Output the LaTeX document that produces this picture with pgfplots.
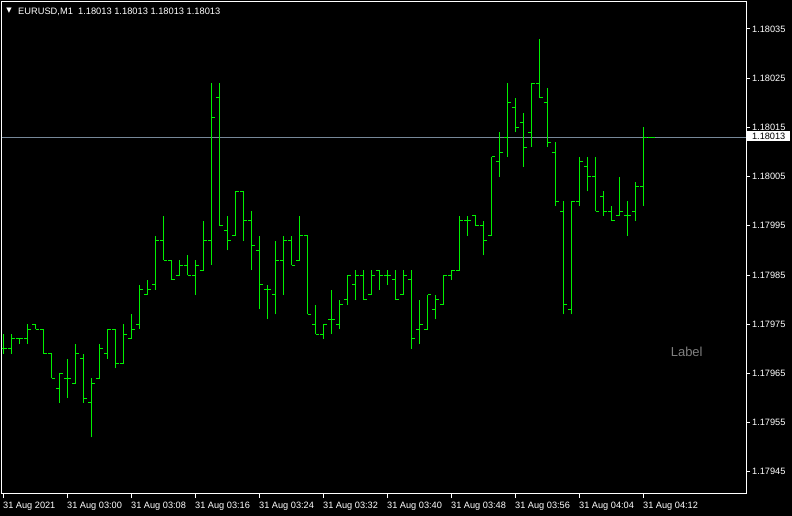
\documentclass[border=0pt]{standalone}
\usepackage{pgfplots}
\pgfplotsset{compat=1.18}
\usepackage{pgfplotstable}
\usepackage{fontspec}
\setmainfont{Liberation Sans}
\newfontfamily\dejavu{DejaVu Sans}
\definecolor{barcol}{RGB}{0,240,0}
\definecolor{bidline}{RGB}{119,136,153}
\definecolor{labelgray}{RGB}{128,128,128}

% EURUSD M1 bars, 31 Aug 2021 02:52 ... 04:13
% i = minutes after 02:52; O,H,L,C in points (1e-5) relative to 1.18000
\pgfplotstableread{
i  O   H   L   C
0  -30 -27 -31 -30
1  -30 -27 -31 -28
2  -28 -28 -29 -28
3  -28 -25 -29 -26
4  -25 -25 -26 -26
5  -26 -26 -31 -31
6  -31 -31 -36 -36
7  -38 -35 -41 -35
8  -36 -32 -40 -36
9  -37 -29 -37 -31
10 -32 -31 -41 -40
11 -41 -36 -48 -37
12 -36 -29 -36 -30
13 -31 -26 -32 -26
14 -26 -26 -34 -33
15 -33 -25 -33 -27
16 -28 -23 -28 -26
17 -25 -17 -26 -18
18 -19 -16 -19 -18
19 -17 -7  -18 -8
20 -8  -3  -12 -12
21 -12 -12 -16 -16
22 -15 -12 -15 -13
23 -13 -11 -15 -15
24 -15 -12 -19 -13
25 -14 -4  -14 -8
26 -8  24  -13 17
27 21  24  -5  -5
28 -6  -3  -10 -8
29 -7  2   -7  2
30 2   2   -8  -4
31 -4  -2  -14 -9
32 -10 -7  -22 -17
33 -18 -17 -24 -18
34 -19 -8  -23 -12
35 -12 -7  -19 -8
36 -8  -7  -13 -13
37 -12 -3  -12 -7
38 -7  -7  -23 -23
39 -25 -21 -27 -27
40 -27 -25 -28 -25
41 -24 -18 -27 -24
42 -25 -20 -26 -21
43 -20 -15 -21 -15
44 -17 -14 -20 -15
45 -15 -14 -20 -20
46 -19 -14 -19 -15
47 -14 -14 -18 -15
48 -15 -14 -17 -15
49 -16 -14 -20 -20
50 -19 -14 -19 -15
51 -16 -14 -30 -28
52 -26 -20 -29 -25
53 -26 -19 -26 -19
54 -22 -19 -24 -20
55 -21 -15 -21 -15
56 -15 -14 -16 -14
57 -14 -3  -14 -4
58 -4  -3  -7  -4
59 -3  -3  -5  -5
60 -5  -4  -11 -8
61 -7  9   -7  9
62 8   14  5   10
63 13  24  9   20
64 19  21  14  15
65 16  18  7   11
66 14  24  11  24
67 24  33  21  21
68 20  23  11  12
69 10  12  -1  0
70 -2  0   -23 -21
71 -22 0   -23 0
72 0   9   -1  8
73 7   9   2   5
74 5   9   -2  -2
75 1   2   -3  -2
76 -2  -1  -4  -4
77 -3  5   -3  -2
78 -3  0   -7  -3
79 -2  4   -4  3
80 3   15  -1  13
81 13  13  13  13
}\ohlc

\begin{document}
\begin{tikzpicture}
\fill[black] (0bp,0bp) rectangle (792bp,516bp);
\begin{axis}[
  at={(2bp,22bp)}, anchor=south west,
  scale only axis, width=744bp, height=492bp,
  xmin=-0.1875, xmax=92.8125, ymin=-59.51, ymax=40.49,
  axis line style={white, line width=1bp},
  every tick/.style={white, line width=1bp},
  tick align=outside, major tick length=4bp,
  xtick pos=left, ytick pos=right,
  xtick={0,8,...,80},
  xticklabels={31 Aug 2021, 31 Aug 03:00, 31 Aug 03:08, 31 Aug 03:16, 31 Aug 03:24, 31 Aug 03:32, 31 Aug 03:40, 31 Aug 03:48, 31 Aug 03:56, 31 Aug 04:04, 31 Aug 04:12},
  ytick={-55,-45,...,35},
  yticklabels={1.17945,1.17955,1.17965,1.17975,1.17985,1.17995,1.18005,1.18015,1.18025,1.18035},
  yticklabel pos=right,
  xticklabel style={anchor=north west, inner sep=0pt, text=white, font=\fontsize{9.2bp}{10bp}\selectfont, yshift=-3.5bp, xshift=-0.5bp},
  yticklabel style={anchor=west, inner sep=0pt, text=white, font=\fontsize{9.2bp}{10bp}\selectfont, xshift=2bp},
  clip=true,
]
\addplot[bidline, line width=1bp] coordinates {(-0.1875,13) (92.8125,13)};
\addplot[barcol, line width=1bp, quiver={u=0, v={\thisrow{H}-\thisrow{L}}}] table[x=i, y=L] {\ohlc};
\addplot[barcol, line width=1bp, quiver={u=0.4, v=0}] table[x expr={\thisrow{i}-0.4}, y=O] {\ohlc};
\addplot[barcol, line width=1bp, quiver={u=0.4, v=0}] table[x=i, y=C] {\ohlc};
\node[text=labelgray, font=\fontsize{13bp}{14bp}\selectfont, inner sep=0pt] at (axis cs:85.4,-30.6) {Label};
\end{axis}
\node[fill=white, text=black, anchor=west, inner sep=0pt, minimum width=43bp, minimum height=10.5bp, font=\fontsize{9.2bp}{10bp}\selectfont] at (747bp,379.8bp) {1.18013};
\node[text=white, font=\dejavu\fontsize{7bp}{7bp}\selectfont, inner sep=0pt] at (9bp,505.8bp) {▼};
\node[text=white, anchor=base west, inner sep=0pt, font=\fontsize{9.3bp}{10bp}\selectfont] at (18bp,501.7bp) {EURUSD,M1\ \ 1.18013 1.18013 1.18013 1.18013};
\pgfresetboundingbox
\path[use as bounding box] (0bp,0bp) rectangle (792bp,516bp);
\end{tikzpicture}
\end{document}
